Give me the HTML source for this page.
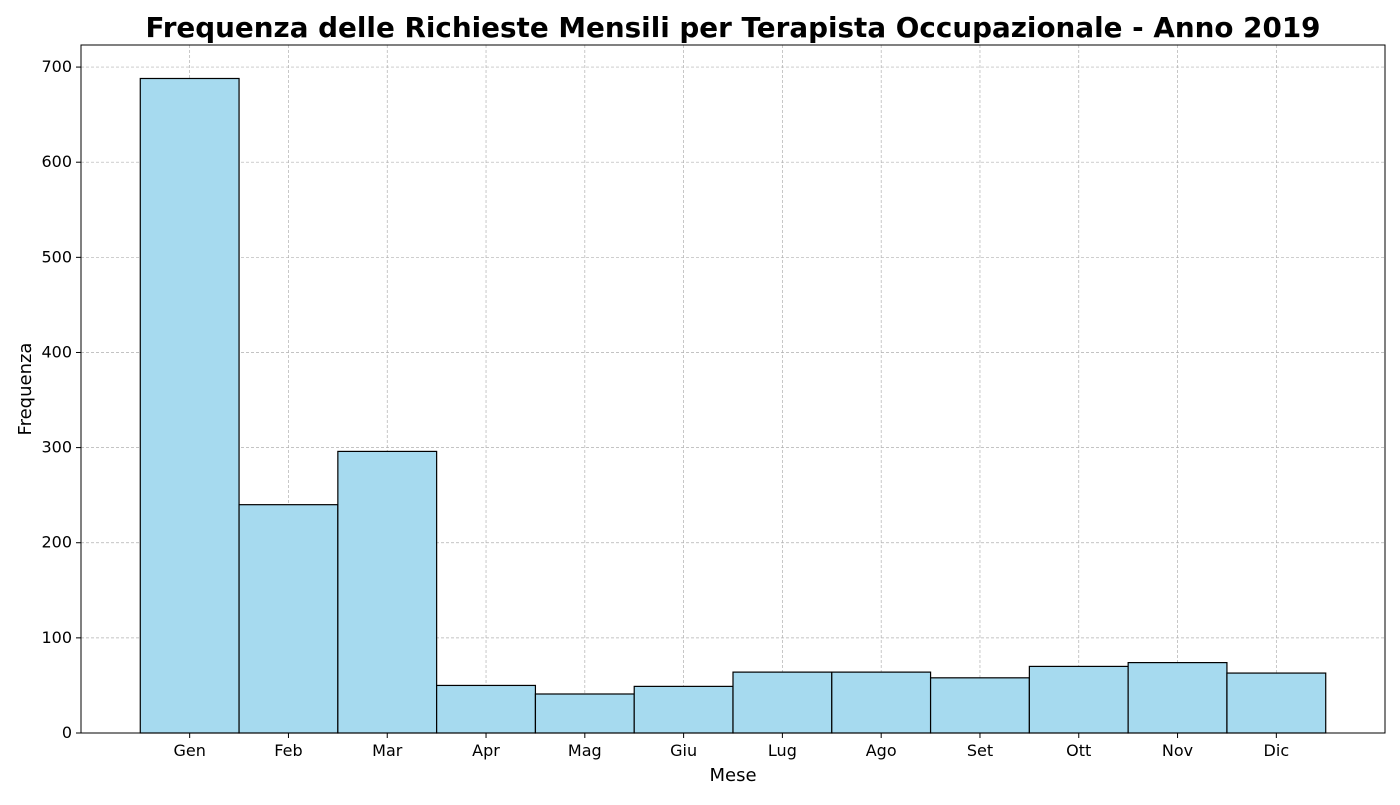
<!DOCTYPE html>
<html><head><meta charset="utf-8"><style>
body{margin:0;background:#fff;font-family:"Liberation Sans","DejaVu Sans",sans-serif;}
</style></head><body>
<svg width="1400" height="800" xmlns="http://www.w3.org/2000/svg" id="svg">
<text x="733" y="37" text-anchor="middle" font-size="27.5" font-weight="bold" textLength="1175" lengthAdjust="spacingAndGlyphs" font-family="DejaVu Sans, Liberation Sans, sans-serif">Frequenza delle Richieste Mensili per Terapista Occupazionale - Anno 2019</text>
<g id="grid"></g><g id="bars"></g><g id="axes"></g>
<text x="733" y="781" text-anchor="middle" font-size="18" font-family="DejaVu Sans, Liberation Sans, sans-serif">Mese</text>
<text transform="translate(31,389) rotate(-90)" text-anchor="middle" font-size="18" font-family="DejaVu Sans, Liberation Sans, sans-serif">Frequenza</text>
</svg>
<script>
const categories=["Gen","Feb","Mar","Apr","Mag","Giu","Lug","Ago","Set","Ott","Nov","Dic"];
const values=[688,240,296,50,41,49,64,64,58,70,74,63];
const yTicks=[0,100,200,300,400,500,600,700];
const L=81,R=1385,T=45,B=733;
const xMin=-1.1,xMax=12.1,yMax=723.2;
const x=v=>L+(v-xMin)/(xMax-xMin)*(R-L);
const y=v=>B-v/yMax*(B-T);
const NS="http://www.w3.org/2000/svg";
function mk(tag,parent,attrs){const e=document.createElementNS(NS,tag);for(const k in attrs)e.setAttribute(k,attrs[k]);parent.appendChild(e);return e;}
const grid=document.getElementById('grid'),bars=document.getElementById('bars'),axes=document.getElementById('axes');
yTicks.forEach(t=>{
  const g=mk('line',grid,{x1:L,x2:R,y1:y(t),y2:y(t),stroke:'#b0b0b0','stroke-width':0.7,'stroke-dasharray':'3,2'});
  
  
  const tk=mk('line',axes,{x1:L-5,x2:L,y1:y(t),y2:y(t),stroke:'#000'});
  
  
  const tx=mk('text',axes,{x:L-9,y:y(t)+5,'text-anchor':'end','font-size':16,'font-family':'DejaVu Sans, Liberation Sans, sans-serif'});
  tx.textContent=t;
  
  
});
categories.forEach((c,i)=>{
  const g=mk('line',grid,{x1:x(i),x2:x(i),y1:T,y2:B,stroke:'#b0b0b0','stroke-width':0.7,'stroke-dasharray':'3,2'});
  
  
  const r=mk('rect',bars,{x:x(i-0.5),y:y(values[i]),width:x(i+0.5)-x(i-0.5),height:B-y(values[i]),fill:'#a6daef',stroke:'#000','stroke-width':1.2});
  
  
  const tk=mk('line',axes,{x1:x(i),x2:x(i),y1:B,y2:B+5,stroke:'#000'});
  
  
  const tx=mk('text',axes,{x:x(i),y:B+23,'text-anchor':'middle','font-size':16,'font-family':'DejaVu Sans, Liberation Sans, sans-serif'});
  tx.textContent=c;
  
  
});
const fr=mk('rect',axes,{x:L,y:T,width:R-L,height:B-T,fill:'none',stroke:'#000','stroke-width':1});


</script>
</body></html>
